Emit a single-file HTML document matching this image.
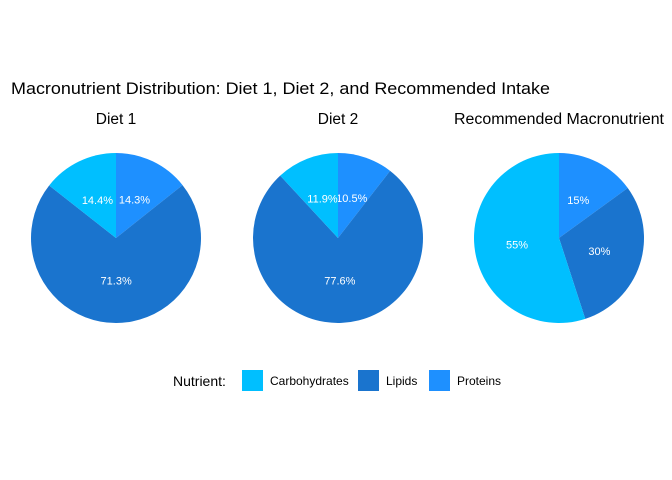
<!DOCTYPE html>
<html><head><meta charset="utf-8"><style>
body{margin:0;background:#fff;font-family:"Liberation Sans",sans-serif;}
svg{display:block}
</style></head><body>
<svg id="chart" width="672" height="480" viewBox="0 0 672 480">
<text x="11" y="94" font-size="17" textLength="539" lengthAdjust="spacingAndGlyphs" fill="#000">Macronutrient Distribution: Diet 1, Diet 2, and Recommended Intake</text>
<g id="pies"></g>
<g font-size="12">
<text x="173" y="386" font-size="14">Nutrient:</text>
<rect x="242" y="370" width="21" height="21" fill="#00BFFF"/>
<text x="270" y="385">Carbohydrates</text>
<rect x="358" y="370" width="21" height="21" fill="#1A74CE"/>
<text x="386" y="385">Lipids</text>
<text x="457" y="385">Proteins</text>
<rect x="429" y="370" width="21" height="21" fill="#1E90FF"/>
</g>
</svg>
<script>
const panels = ["Diet 1", "Diet 2", "Recommended Macronutrient"];
const categories = ["Proteins", "Lipids", "Carbohydrates"];
const diet1Values = [14.3, 71.3, 14.4];
const diet2Values = [10.5, 77.6, 11.9];
const recValues = [15, 30, 55];
const printedLabels = [["14.3%","71.3%","14.4%"],["10.5%","77.6%","11.9%"],["15%","30%","55%"]];
const colors = {Proteins:"#1E90FF", Lipids:"#1A74CE", Carbohydrates:"#00BFFF"};
const allValues = [diet1Values, diet2Values, recValues];
const centersX = [116, 338, 559], cy = 238, R = 85;
const ns = "http://www.w3.org/2000/svg";
const g = document.getElementById("pies");
function pt(cx, frac, r){const a = frac*2*Math.PI; return [cx + r*Math.sin(a), cy - r*Math.cos(a)];}
allValues.forEach((vals, pi) => {
  const cx = centersX[pi];
  const total = vals.reduce((a,b)=>a+b,0);
  const t = document.createElementNS(ns,"text");
  
  
  t.setAttribute("x", cx); t.setAttribute("y", 124); t.setAttribute("text-anchor","middle");
  t.setAttribute("font-size","15.5"); t.textContent = panels[pi];
  if (pi === 2) { t.setAttribute("textLength","210"); t.setAttribute("lengthAdjust","spacingAndGlyphs"); }
  g.appendChild(t);
  let acc = 0;
  vals.forEach((v, i) => {
    const f0 = acc/total, f1 = (acc+v)/total; acc += v;
    const [x0,y0] = pt(cx,f0,R), [x1,y1] = pt(cx,f1,R);
    const p = document.createElementNS(ns,"path");
    
    
    p.setAttribute("d", `M${cx},${cy}L${x0},${y0}A${R},${R} 0 ${f1-f0>0.5?1:0} 1 ${x1},${y1}Z`);
    p.setAttribute("fill", colors[categories[i]]);
    g.appendChild(p);
    const [lx,ly] = pt(cx,(f0+f1)/2,R*0.5);
    const l = document.createElementNS(ns,"text");
    
    
    l.setAttribute("x", lx); l.setAttribute("y", ly+4); l.setAttribute("text-anchor","middle");
    l.setAttribute("font-size","11"); l.setAttribute("fill","#fff");
    l.textContent = printedLabels[pi][i]; g.appendChild(l);
  });
});
</script>
</body></html>
